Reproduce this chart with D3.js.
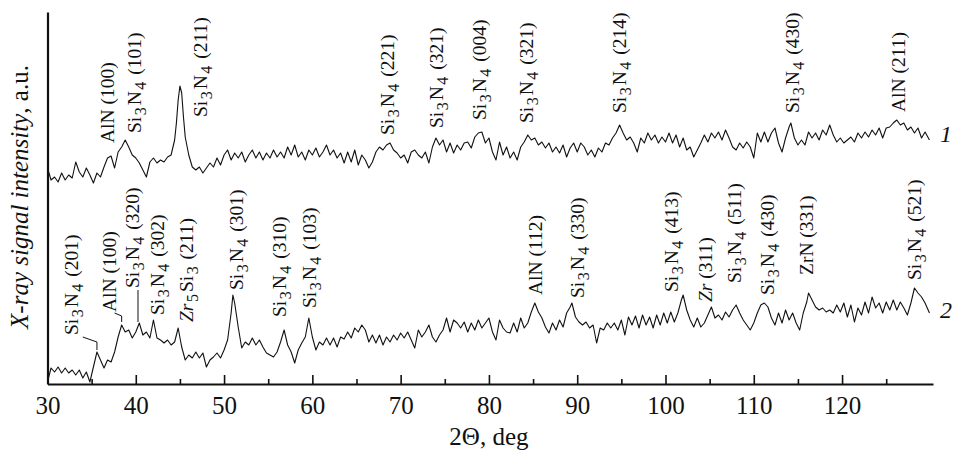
<!DOCTYPE html>
<html>
<head>
    <title>XRD patterns</title>
    <script src="https://d3js.org/d3.v7.min.js"></script>
    <style>
      body { margin: 0; background: #fff; }
    </style>
</head>
<body>
    <div id="chart"></div>
    <script>

// pattern 1 (upper trace): 2theta, deg and intensity, a.u.
const angles1 = [30.0,30.4,30.8,31.2,31.6,32.0,32.4,32.8,33.2,33.6,34.0,34.4,34.8,35.2,35.6,36.0,36.4,36.8,37.2,37.6,
  38.0,38.4,38.8,39.2,39.6,40.0,40.4,40.8,41.2,41.6,42.0,42.4,42.8,43.2,43.6,44.0,44.4,44.6,44.8,45.0,45.2,45.4,45.6,
  46.0,46.4,46.8,47.2,47.6,48.0,48.4,48.8,49.2,49.6,50.0,50.4,50.8,51.2,51.6,52.0,52.4,52.8,53.2,53.6,54.0,54.4,54.8,
  55.2,55.6,56.0,56.4,56.8,57.2,57.6,58.0,58.4,58.8,59.2,59.6,60.0,60.4,60.8,61.2,61.6,62.0,62.4,62.8,63.2,63.6,64.0,
  64.4,64.8,65.2,65.6,66.0,66.4,66.8,67.2,67.6,68.0,68.4,68.8,69.2,69.6,70.0,70.4,70.8,71.2,71.6,72.0,72.4,72.8,73.2,
  73.6,74.0,74.4,74.8,75.2,75.6,76.0,76.4,76.8,77.2,77.6,78.0,78.4,78.8,79.2,79.6,80.0,80.4,80.8,81.2,81.6,82.0,82.4,
  82.8,83.2,83.6,84.0,84.4,84.8,85.2,85.6,86.0,86.4,86.8,87.2,87.6,88.0,88.4,88.8,89.2,89.6,90.0,90.4,90.8,91.2,91.6,
  92.0,92.4,92.8,93.2,93.6,94.0,94.4,94.8,95.2,95.6,96.0,96.4,96.8,97.2,97.6,98.0,98.4,98.8,99.2,99.6,100.0,100.4,
  100.8,101.2,101.6,102.0,102.4,102.8,103.2,103.6,104.0,104.4,104.8,105.2,105.6,106.0,106.4,106.8,107.2,107.6,108.0,
  108.4,108.8,109.2,109.6,110.0,110.4,110.8,111.2,111.6,112.0,112.4,112.8,113.2,113.6,114.0,114.2,114.6,115.0,115.4,
  115.8,116.2,116.6,117.0,117.4,117.8,118.2,118.6,119.0,119.4,119.8,120.2,120.6,121.0,121.4,121.8,122.2,122.6,123.0,
  123.4,123.8,124.2,124.6,125.0,125.4,125.8,126.2,126.6,127.0,127.4,127.8,128.2,128.6,129.0,129.4,129.9];
const counts1 = [216,204,207,202,211,204,209,206,222,212,207,216,209,201,211,207,217,226,228,216,
  232,237,244,237,229,226,221,214,207,222,226,221,224,222,227,229,244,261,284,298,291,267,247,
  229,217,214,217,211,216,221,217,226,219,229,234,224,231,226,232,222,229,234,226,232,224,231,
  226,234,227,232,226,237,229,239,227,232,224,234,229,236,227,232,239,229,234,226,231,221,232,
  222,234,219,229,224,216,222,232,237,234,239,241,234,231,226,229,221,232,234,229,226,232,221,
  237,246,239,244,232,241,231,239,234,241,242,236,247,251,252,241,246,232,224,242,229,237,226,
  232,224,237,242,249,244,246,239,242,236,241,232,237,231,239,227,236,241,232,241,237,229,234,
  227,236,232,241,239,246,251,259,251,244,247,241,232,246,241,251,244,249,241,247,242,251,
  241,249,237,246,234,237,227,234,241,249,242,251,246,252,244,254,246,237,234,
  241,236,242,237,226,251,242,252,242,251,256,241,232,246,257,261,246,239,244,
  239,252,246,251,244,254,249,259,249,242,246,241,244,247,242,251,246,252,247,
  254,249,256,246,256,257,261,264,259,261,254,257,251,256,246,252,244];

// pattern 2 (lower trace)
const angles2 = [30.0,30.4,30.8,31.2,31.6,32.0,32.4,32.8,33.2,33.6,34.0,34.4,34.8,35.2,35.6,36.0,36.4,36.8,37.2,37.6,
  38.0,38.4,38.8,39.2,39.6,40.0,40.4,40.8,41.2,41.6,42.0,42.4,42.8,43.2,43.6,44.0,44.4,44.8,45.2,45.6,46.0,46.4,46.8,
  47.2,47.6,48.0,48.4,48.8,49.2,49.6,50.0,50.4,50.8,51.0,51.2,51.6,52.0,52.4,52.8,53.2,53.6,54.0,54.4,54.8,55.2,55.6,
  56.0,56.4,56.8,57.2,57.6,58.0,58.4,58.8,59.2,59.6,60.0,60.4,60.8,61.2,61.6,62.0,62.4,62.8,63.2,63.6,64.0,64.4,64.8,
  65.2,65.6,66.0,66.4,66.8,67.2,67.6,68.0,68.4,68.8,69.2,69.6,70.0,70.4,70.8,71.2,71.6,72.0,72.4,72.8,73.2,73.6,74.0,
  74.4,74.8,75.2,75.6,76.0,76.4,76.8,77.2,77.6,78.0,78.4,78.8,79.2,79.6,80.0,80.4,80.8,81.2,81.6,82.0,82.4,82.8,83.2,
  83.6,84.0,84.4,84.8,85.2,85.6,86.0,86.4,86.8,87.2,87.6,88.0,88.4,88.8,89.2,89.4,89.8,90.2,90.6,91.0,91.4,91.8,92.2,
  92.6,93.0,93.4,93.8,94.2,94.6,95.0,95.4,95.8,96.2,96.6,97.0,97.4,97.8,98.2,98.6,99.0,99.4,99.8,100.2,100.6,101.0,
  101.4,101.8,102.0,102.4,102.8,103.2,103.6,104.0,104.4,104.8,105.2,105.6,106.0,106.4,106.8,107.2,107.6,108.0,108.4,
  108.8,109.2,109.6,110.0,110.4,110.8,111.2,111.6,112.0,112.4,112.8,113.2,113.6,114.0,114.4,114.8,115.2,115.6,116.0,
  116.2,116.6,117.0,117.4,117.8,118.2,118.6,119.0,119.4,119.8,120.2,120.6,121.0,121.4,121.8,122.2,122.6,123.0,123.4,
  123.8,124.2,124.6,125.0,125.4,125.8,126.2,126.6,127.0,127.4,127.8,128.2,128.6,129.0,129.4,129.9];
const counts2 = [2,16,12,17,11,16,11,14,9,14,6,12,2,17,32,24,16,24,22,32,
  47,59,52,54,46,52,61,49,52,46,64,46,44,41,44,39,42,56,37,24,29,26,32,
  26,31,17,24,27,31,26,34,44,71,89,81,57,36,42,39,46,39,44,37,31,29,27,
  32,42,54,39,32,21,34,41,47,66,47,34,42,39,46,39,46,37,47,45,52,46,56,
  52,59,54,42,49,41,49,39,47,42,49,44,51,46,52,44,36,54,47,52,59,47,42,
  49,54,66,52,64,61,56,62,52,61,54,64,56,61,66,52,44,64,56,52,51,61,52,
  66,56,61,72,81,72,66,57,51,61,54,64,57,71,77,81,67,62,59,62,56,59,41,
  56,54,61,56,61,54,64,49,67,59,68,56,69,59,67,56,69,59,71,61,72,62,
  71,84,89,74,64,57,66,57,61,69,77,66,69,64,72,67,74,79,71,
  64,59,54,61,71,79,81,77,66,59,71,61,74,64,71,61,54,71,82,
  91,84,77,74,76,72,74,71,79,72,81,67,79,62,76,69,82,71,87,
  76,81,71,82,74,84,74,82,76,69,81,96,91,87,81,71];

// peak labels: {Zr} = italic part, _n = subscript
const peakNames1 = ["AlN (100)", "Si_3N_4 (101)", "Si_3N_4 (211)", "Si_3N_4 (221)", "Si_3N_4 (321)",
  "Si_3N_4 (004)", "Si_3N_4 (321)", "Si_3N_4 (214)", "Si_3N_4 (430)", "AlN (211)"];
const peakAngles1 = [37.5, 40.6, 48.1, 69.2, 74.8, 79.7, 85.0, 95.5, 115.1, 127.1];
const peakLevels1 = [241, 251, 267, 249, 256, 264, 261, 271, 271, 272];

const peakNames2 = ["Si_3N_4 (201)", "AlN (100)", "Si_3N_4 (320)", "Si_3N_4 (302)", "{Zr}_5Si_3 (211)",
  "Si_3N_4 (301)", "Si_3N_4 (310)", "Si_3N_4 (103)", "AlN (112)", "Si_3N_4 (330)", "Si_3N_4 (413)",
  "{Zr} (311)", "Si_3N_4 (511)", "Si_3N_4 (430)", "ZrN (331)", "Si_3N_4 (521)"];
const peakAngles2 = [33.45, 37.76, 40.36, 43.19, 46.48, 52.14, 57.01, 60.41, 86.0, 90.76, 101.4,
  105.3, 108.5, 112.3, 116.7, 128.9];
const peakLevels2 = [49, 72, 96, 69, 62, 94, 67, 76, 89, 86, 92, 82, 101, 89, 109, 104];

// leader lines from a label to its peak
const leaders2 = [
  [[34.0, 47], [35.6, 42], [35.6, 34]],
  [[37.6, 71], [38.4, 68], [38.4, 62]],
  [[40.25, 94], [40.25, 62]]
];

const majorTicks = [30, 40, 50, 60, 70, 80, 90, 100, 110, 120];
const minorTicks = [35, 45, 55, 65, 75, 85, 95, 105, 115, 125];

const width = 953;
const height = 451;
const serif = "Liberation Serif, Times New Roman, serif";

const x = d3.scaleLinear().domain([30, 130.3]).range([47.5, 933]);
const y = d3.scaleLinear().domain([0, 372]).range([384, 12]);

const svg = d3.create("svg")
    .attr("width", width)
    .attr("height", height)
    .attr("viewBox", [0, 0, width, height])
    .style("background", "#fff")
    .style("font-family", serif);

// axes
svg.append("g")
    .attr("transform", `translate(0,${y(0)})`)
    .call(d3.axisBottom(x).tickValues(minorTicks).tickSizeInner(-5).tickSizeOuter(0).tickFormat(""))
    .call(g => g.select(".domain").remove())
    .call(g => g.selectAll("line").attr("stroke", "#111").attr("stroke-width", 1.6));

svg.append("g")
    .attr("transform", `translate(0,${y(0)})`)
    .call(d3.axisBottom(x).tickValues(majorTicks).tickSizeInner(-9).tickSizeOuter(0).tickPadding(12))
    .attr("font-family", null)
    .attr("font-size", 25)
    .call(g => g.select(".domain").attr("stroke", "#111").attr("stroke-width", 2.2))
    .call(g => g.selectAll("line").attr("stroke", "#111").attr("stroke-width", 1.6))
    .call(g => g.selectAll("text").attr("fill", "#111"));

svg.append("g")
    .attr("transform", `translate(${x(30)},0)`)
    .call(d3.axisLeft(y).tickValues([]).tickSizeOuter(0))
    .call(g => g.select(".domain").attr("stroke", "#111").attr("stroke-width", 2.2));

svg.append("text")
    .attr("x", x(80))
    .attr("y", 445)
    .attr("text-anchor", "middle")
    .attr("font-size", 25)
    .attr("fill", "#111")
    .text("2\u0398, deg");

const ylab = svg.append("text")
    .attr("transform", `translate(28,${y(187)}) rotate(-90)`)
    .attr("text-anchor", "middle")
    .attr("font-size", 25)
    .attr("fill", "#111");
ylab.append("tspan").attr("font-style", "italic").text("X-ray signal intensity");
ylab.append("tspan").text(", a.u.");

// traces
const line = d3.line()
    .x(d => x(d[0]))
    .y(d => y(d[1]));

const traces = [d3.zip(angles1, counts1), d3.zip(angles2, counts2)];

svg.append("g")
    .attr("fill", "none")
    .attr("stroke", "#111")
    .attr("stroke-width", 1.1)
    .attr("stroke-linejoin", "round")
  .selectAll("path")
  .data(traces)
  .join("path")
    .attr("d", line);

// curve numbers
svg.append("g")
    .attr("font-size", 24)
    .attr("font-style", "italic")
    .attr("fill", "#111")
  .selectAll("text")
  .data([["1", 242], ["2", 66]])
  .join("text")
    .attr("x", 940)
    .attr("y", d => y(d[1]))
    .text(d => d[0]);

// peak labels
function drawLabels(names, angles, levels) {
  const g = svg.append("g")
      .attr("font-size", 19.5)
      .attr("fill", "#111");
  names.forEach((name, i) => {
    const t = g.append("text")
        .attr("transform", `translate(${x(angles[i])},${y(levels[i])}) rotate(-90)`);
    const parts = name.split(/(\{[^}]*\}|_\d)/).filter(s => s.length);
    let sub = false;
    parts.forEach(p => {
      if (p[0] === "_") {
        t.append("tspan").attr("font-size", 16).attr("dx", 1.5).attr("dy", 5).text(p.slice(1));
        sub = true;
      } else {
        const s = t.append("tspan").attr("dx", sub ? 2 : 0).attr("dy", sub ? -5 : 0);
        if (p[0] === "{") s.attr("font-style", "italic").text(p.slice(1, -1));
        else s.text(p);
        sub = false;
      }
    });
  });
}

drawLabels(peakNames1, peakAngles1, peakLevels1);
drawLabels(peakNames2, peakAngles2, peakLevels2);

svg.append("g")
    .attr("fill", "none")
    .attr("stroke", "#111")
    .attr("stroke-width", 1)
  .selectAll("path")
  .data(leaders2)
  .join("path")
    .attr("d", line);

document.getElementById("chart").appendChild(svg.node());

    </script>
</body>
</html>
